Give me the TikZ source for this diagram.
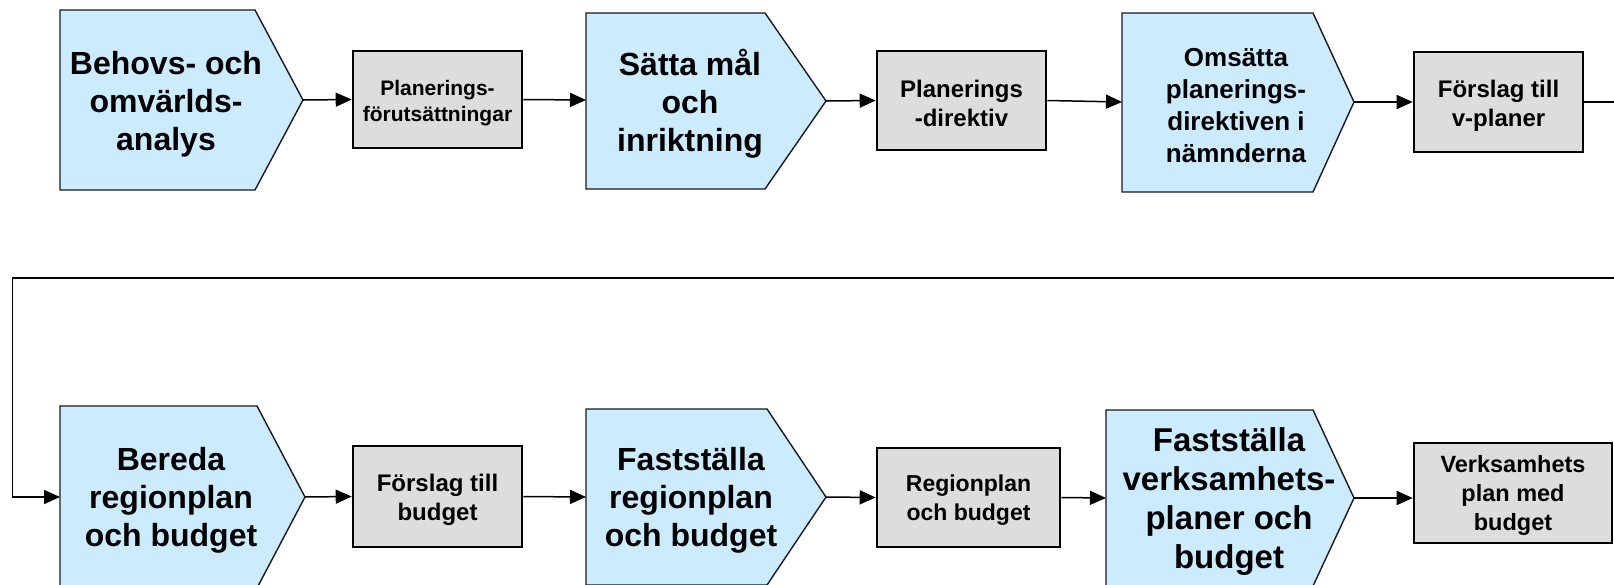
\documentclass[tikz,border=0pt]{standalone}
\usepackage{fontspec}
\setmainfont{Liberation Sans}
\usetikzlibrary{arrows.meta}
\definecolor{pentfill}{HTML}{CCEBFE}
\definecolor{boxfill}{HTML}{DDDDDD}
\begin{document}
\begin{tikzpicture}[x=1pt,y=-1pt,
  pent/.style={draw=black!90, line width=1.4pt, fill=pentfill, line join=miter},
  gbox/.style={draw=black, line width=2.6pt, fill=boxfill, inner sep=0pt},
  btext/.style={align=center, inner sep=0pt},
  ptext/.style={align=center, inner sep=0pt, font=\bfseries\fontsize{32}{38}\selectfont},
  arr/.style={line width=1.5pt, -{Triangle[length=16pt,width=14pt]}}]
\useasboundingbox (0,0) rectangle (1614,584);
\fill[white] (0,0) rectangle (1614,584);

% ---- top row pentagons
\draw[pent] (60,10) -- (255,10) -- (303,100) -- (255,190) -- (60,190) -- cycle;
\coordinate (p1in) at (60,100); \coordinate (p1out) at (303,100);
\node[ptext] (t1) at (166,104) {Behovs- och\\omvärlds-\\analys};

\draw[pent] (586,13) -- (765,13) -- (826,101) -- (765,189) -- (586,189) -- cycle;
\coordinate (p2in) at (586,100); \coordinate (p2out) at (826,101);
\node[ptext] (t2) at (690,104) {Sätta mål\\och\\inriktning};

\draw[pent] (1122,13) -- (1313,13) -- (1354,102) -- (1313,192) -- (1122,192) -- cycle;
\coordinate (p3in) at (1122,102); \coordinate (p3out) at (1354,102);
\node[ptext, font=\bfseries\fontsize{26}{32}\selectfont] (t3) at (1236,106) {Omsätta\\planerings-\\direktiven i\\nämnderna};

% ---- bottom row pentagons
\draw[pent] (60,406) -- (257,406) -- (305,497) -- (257,588) -- (60,588) -- cycle;
\coordinate (p4in) at (60,497); \coordinate (p4out) at (305,497);
\node[ptext] (t4) at (171,500.5) {Bereda\\regionplan\\och budget};

\draw[pent] (586,409) -- (767,409) -- (826,497) -- (767,585) -- (586,585) -- cycle;
\coordinate (p5in) at (586,497); \coordinate (p5out) at (826,497);
\node[ptext] (t5) at (691,500.5) {Fastställa\\regionplan\\och budget};

\draw[pent] (1106,410) -- (1313,410) -- (1354,498) -- (1313,586) -- (1106,586) -- cycle;
\coordinate (p6in) at (1106,498); \coordinate (p6out) at (1354,498);
\node[ptext, font=\bfseries\fontsize{33}{39}\selectfont] (t6) at (1229,502) {Fastställa\\verksamhets-\\planer och\\budget};

% ---- grey boxes
\node[gbox, minimum width=169pt, minimum height=97pt] (b1) at (437.5,99.5) {};
\node[btext, font=\bfseries\fontsize{21}{26}\selectfont] (b1t) at ([yshift=-4pt]b1.center) {Planerings-\\förutsättningar};
\node[gbox, minimum width=169pt, minimum height=99pt] (b2) at (961.5,100.5) {};
\node[btext, font=\bfseries\fontsize{24}{29}\selectfont] (b2t) at ([yshift=-3pt]b2.center) {Planerings\\-direktiv};
\node[gbox, minimum width=169pt, minimum height=100pt] (b3) at (1498.5,102) {};
\node[btext, font=\bfseries\fontsize{24}{29}\selectfont] (b3t) at ([yshift=-3.5pt]b3.center) {Förslag till\\v-planer};
\node[gbox, minimum width=169pt, minimum height=101pt] (b4) at (437.5,496.5) {};
\node[btext, font=\bfseries\fontsize{24}{29}\selectfont] (b4t) at ([yshift=-3pt]b4.center) {Förslag till\\budget};
\node[gbox, minimum width=183pt, minimum height=99pt] (b5) at (968.5,497.5) {};
\node[btext, font=\bfseries\fontsize{23}{29}\selectfont] (b5t) at ([yshift=-3pt]b5.center) {Regionplan\\och budget};
\node[gbox, minimum width=198pt, minimum height=100pt] (b6) at (1513,493) {};
\node[btext, font=\bfseries\fontsize{23.5}{29}\selectfont] (b6t) at ([yshift=-2pt]b6.center) {Verksamhets\\plan med\\budget};

% ---- connectors
\draw[arr] (p1out) -- (b1.west);
\draw[arr] (b1.east) -- (p2in);
\draw[arr] (p2out) -- (b2.west);
\draw[arr] (b2.east) -- (p3in);
\draw[arr] (p3out) -- (b3.west);
\coordinate (exitR) at (1640,102);
\coordinate (loopL) at (12.5,278);
\draw[arr] (b3.east) -- (exitR) |- (loopL) |- (p4in);
\draw[arr] (p4out) -- (b4.west);
\draw[arr] (b4.east) -- (p5in);
\draw[arr] (p5out) -- (b5.west);
\draw[arr] (b5.east) -- (p6in);
\draw[arr] (p6out) -- (b6.west |- p6out);
\end{tikzpicture}
\end{document}
